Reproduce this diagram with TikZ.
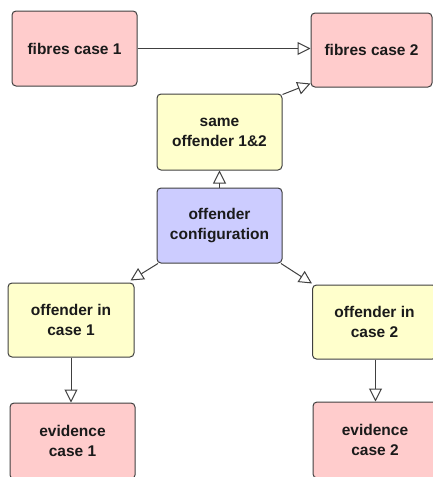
\documentclass[tikz,border=0pt]{standalone}
\usepackage{fontspec}
\setmainfont{Liberation Sans}
\usetikzlibrary{arrows.meta}
\definecolor{pinkfill}{HTML}{FFCCCC}
\definecolor{yellowfill}{HTML}{FFFFCC}
\definecolor{bluefill}{HTML}{CCCCFF}
\definecolor{edge}{HTML}{404040}
\definecolor{txt}{HTML}{1A1A1A}
\begin{document}
\begin{tikzpicture}[x=1pt,y=-1pt,
  box/.style={draw=edge, line width=1pt, rounded corners=4pt, align=center,
    font=\fontsize{15.5}{20}\selectfont\bfseries, text=txt, inner sep=0pt},
  pinkbox/.style={box, fill=pinkfill},
  yellowbox/.style={box, fill=yellowfill},
  bluebox/.style={box, fill=bluefill},
  conn/.style={draw=edge, line width=1pt, -{Triangle[open, length=13pt, width=13pt, fill=white]}}
]
\useasboundingbox (0,0) rectangle (433,477);
\clip (0,0) rectangle (433,477);
\node[pinkbox, minimum width=125pt, minimum height=75pt] (f1) at (74.5,48.5) {fibres case 1};
\node[pinkbox, minimum width=121pt, minimum height=74pt] (f2) at (371.5,50) {fibres case 2};
\node[yellowbox, minimum width=125pt, minimum height=76pt] (same) at (219.5,132) {same\\offender 1\&2};
\node[bluebox, minimum width=125pt, minimum height=75pt] (conf) at (219.5,225.5) {offender\\configuration};
\node[yellowbox, minimum width=126pt, minimum height=74pt] (o1) at (71,320) {offender in\\case 1};
\node[yellowbox, minimum width=124pt, minimum height=74pt] (o2) at (374.5,322) {offender in\\case 2};
\node[pinkbox, minimum width=125pt, minimum height=76pt] (e1) at (72.5,441) {evidence\\case 1};
\node[pinkbox, minimum width=124pt, minimum height=76pt] (e2) at (375,440) {evidence\\case 2};
\coordinate (f2in) at ([yshift=4pt]f2.south west);
\coordinate (o1in) at ([xshift=-4pt,yshift=2pt]o1.north east);
\coordinate (o2in) at ([yshift=1pt]o2.north west);
\coordinate (o2out) at ([xshift=1pt]o2.south);
\draw[conn] (f1.east) -- (f2.west |- f1.east);
\draw[conn] ([yshift=-1pt]same.north east) -- (f2in);
\draw[conn] (conf.north) -- (same.south);
\draw[conn] ([xshift=1.5pt]conf.south west) -- (o1in);
\draw[conn] ([xshift=-1.5pt]conf.south east) -- (o2in);
\draw[conn] (o1.south) -- (e1.north -| o1.south);
\draw[conn] (o2out) -- (e2.north -| o2out);
\end{tikzpicture}
\end{document}
